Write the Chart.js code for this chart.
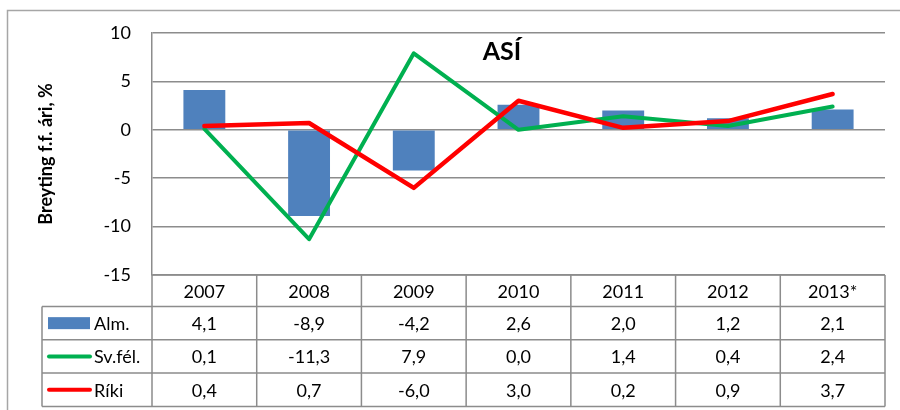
<!DOCTYPE html>
<html>
<head>
<meta charset="utf-8">
<script src="https://cdn.jsdelivr.net/npm/chart.js@4.4.1/dist/chart.umd.min.js"></script>
<style>
html,body{margin:0;padding:0;background:#fff;}
#wrap{width:900px;height:410px;position:relative;}
</style>
</head>
<body>
<div id="wrap"><canvas id="c" width="900" height="410"></canvas></div>
<script>
const categories = ['2007','2008','2009','2010','2011','2012','2013*'];
const almValues = [4.1, -8.9, -4.2, 2.6, 2.0, 1.2, 2.1];
const svfelValues = [0.1, -11.3, 7.9, 0.0, 1.4, 0.4, 2.4];
const rikiValues = [0.4, 0.7, -6.0, 3.0, 0.2, 0.9, 3.7];
const seriesNames = ['Alm.', 'Sv.fél.', 'Ríki'];
const chartTitle = 'ASÍ';
const yAxisTitle = 'Breyting f.f. ári, %';

const FONT = 'Lato, "Open Sans", sans-serif';
const fmt = v => v.toFixed(1).replace('.', ',');

const extras = {
  id: 'extras',
  beforeDraw(chart) {
    const ctx = chart.ctx;
    ctx.save();
    ctx.fillStyle = '#fff';
    ctx.fillRect(0, 0, chart.width, chart.height);
    ctx.strokeStyle = '#a6a6a6';
    ctx.lineWidth = 1.5;
    ctx.strokeRect(7.5, 10.5, 900, 420);
    ctx.restore();
  },
  afterDraw(chart) {
    const ctx = chart.ctx;
    const x = chart.scales.x, ca = chart.chartArea;
    const n = categories.length;
    const cw = (ca.right - ca.left) / n;
    ctx.save();
    // title
    ctx.fillStyle = '#000';
    ctx.font = 'bold 25px ' + FONT;
    ctx.textAlign = 'center';
    ctx.textBaseline = 'middle';
    ctx.fillText(chartTitle, 502, 52);
    // y-axis title
    ctx.save();
    ctx.translate(46, 154);
    ctx.rotate(-Math.PI / 2);
    ctx.font = 'bold 18px ' + FONT;
    ctx.fillText(yAxisTitle, 0, 0);
    ctx.restore();
    // table
    const top = ca.bottom;
    const rowH = [31.5, 33.3, 33.3, 33.3];
    const rows = [top];
    rowH.forEach(h => rows.push(rows[rows.length - 1] + h));
    const legLeft = 42;
    ctx.strokeStyle = '#8c8c8c';
    ctx.lineWidth = 1.5;
    ctx.beginPath();
    ctx.moveTo(ca.left, rows[0]); ctx.lineTo(ca.right, rows[0]);
    for (let r = 1; r < rows.length; r++) {
      ctx.moveTo(legLeft, rows[r]); ctx.lineTo(ca.right, rows[r]);
    }
    for (let i = 0; i <= n; i++) {
      const xx = ca.left + i * cw;
      ctx.moveTo(xx, rows[0]); ctx.lineTo(xx, rows[rows.length - 1]);
    }
    ctx.moveTo(legLeft, rows[1]); ctx.lineTo(legLeft, rows[rows.length - 1]);
    ctx.stroke();

    ctx.font = '18px ' + FONT;
    ctx.fillStyle = '#000';
    ctx.textAlign = 'center';
    ctx.textBaseline = 'middle';
    const seriesData = [almValues, svfelValues, rikiValues];
    categories.forEach((c, i) => {
      const cx = x.getPixelForValue(i);
      ctx.fillText(c, cx, (rows[0] + rows[1]) / 2 + 1);
      seriesData.forEach((arr, s) => {
        ctx.fillText(fmt(arr[i]), cx, (rows[s + 1] + rows[s + 2]) / 2 + 1);
      });
    });
    chart.data.datasets.forEach((ds) => {
      const s = ds.tableRow;
      const cy = (rows[s + 1] + rows[s + 2]) / 2;
      if (ds.type === 'bar') {
        ctx.fillStyle = ds.backgroundColor;
        ctx.fillRect(48, cy - 6, 42, 12);
      } else {
        ctx.strokeStyle = ds.borderColor;
        ctx.lineWidth = 4;
        ctx.lineCap = 'round';
        ctx.beginPath();
        ctx.moveTo(49, cy); ctx.lineTo(90, cy);
        ctx.stroke();
      }
      ctx.fillStyle = '#000';
      ctx.textAlign = 'left';
      ctx.fillText(seriesNames[s], 94, cy + 1);
    });
    ctx.restore();
  }
};

new Chart(document.getElementById('c'), {
  data: {
    labels: categories,
    datasets: [
      { type: 'line', label: seriesNames[2], data: rikiValues, borderColor: '#ff0000', borderWidth: 4.5,
        pointRadius: 0, tension: 0, order: 1, tableRow: 2, borderCapStyle: 'round', borderJoinStyle: 'round' },
      { type: 'line', label: seriesNames[1], data: svfelValues, borderColor: '#00b050', borderWidth: 4,
        pointRadius: 0, tension: 0, order: 2, tableRow: 1, borderCapStyle: 'round', borderJoinStyle: 'round' },
      { type: 'bar', label: seriesNames[0], data: almValues, backgroundColor: '#4f81bd',
        categoryPercentage: 1, barPercentage: 0.4, order: 3, tableRow: 0 }
    ]
  },
  options: {
    responsive: false,
    animation: false,
    devicePixelRatio: 1,
    layout: { padding: { left: 0, right: 15, top: 33, bottom: 135 } },
    plugins: { legend: { display: false }, tooltip: { enabled: false }, title: { display: false } },
    scales: {
      x: { display: false, offset: true },
      y: {
        min: -15, max: 10,
        afterFit(scale) { scale.width = 152; },
        ticks: { stepSize: 5, color: '#000', font: { family: FONT, size: 18 }, padding: 21 },
        grid: { color: '#8c8c8c', lineWidth: 1.5, drawTicks: false },
        border: { display: true, color: '#8c8c8c', width: 1.5 }
      }
    }
  },
  plugins: [extras]
});
</script>
</body>
</html>
